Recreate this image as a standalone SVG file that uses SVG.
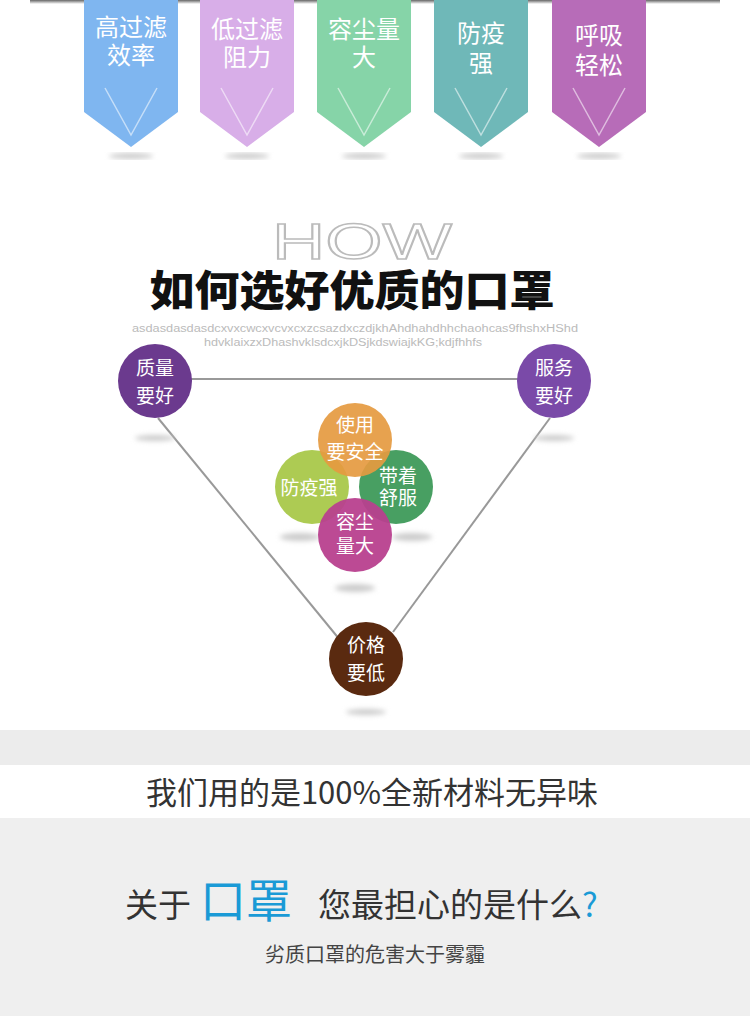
<svg xmlns="http://www.w3.org/2000/svg" width="750" height="1016" viewBox="0 0 750 1016">
<defs>
<style>
.bt{font-family:"Noto Sans CJK SC",sans-serif;font-size:24px;fill:#fff;text-anchor:middle}
.ct{font-family:"Noto Sans CJK SC",sans-serif;font-size:19px;fill:#fff;text-anchor:middle}
.v{fill:none;stroke:#fff;stroke-opacity:0.55;stroke-width:1.5}
.ln{stroke:#999;stroke-width:2;fill:none}
</style>
<linearGradient id="topbar" x1="0" y1="0" x2="0" y2="1"><stop offset="0" stop-color="#666"/><stop offset="1" stop-color="#fff"/></linearGradient>
<filter id="blur"><feGaussianBlur stdDeviation="2.5"/></filter>
</defs>
<rect width="750" height="1016" fill="#fff"/>
<rect x="30" y="0" width="690" height="4" fill="url(#topbar)"/>
<g id="b1"><path d="M84 0H178V112L131 147L84 112Z" fill="#7fb6f0"/><polyline class="v" points="105,88 131,135 157,88"/><text class="bt" x="131" y="36">高过滤</text><text class="bt" x="131" y="64">效率</text></g>
<g id="b2"><path d="M200 0H294V112L247 147L200 112Z" fill="#d8aee8"/><polyline class="v" points="221,88 247,135 273,88"/><text class="bt" x="247" y="38">低过滤</text><text class="bt" x="247" y="66">阻力</text></g>
<g id="b3"><path d="M317 0H411V112L364 147L317 112Z" fill="#86d4a8"/><polyline class="v" points="338,88 364,135 390,88"/><text class="bt" x="364" y="38">容尘量</text><text class="bt" x="364" y="66">大</text></g>
<g id="b4"><path d="M434 0H528V112L481 147L434 112Z" fill="#6fb8b8"/><polyline class="v" points="455,88 481,135 507,88"/><text class="bt" x="481" y="42">防疫</text><text class="bt" x="481" y="72">强</text></g>
<g id="b5"><path d="M552 0H646V112L599 147L552 112Z" fill="#b76cb8"/><polyline class="v" points="573,88 599,135 625,88"/><text class="bt" x="599" y="44">呼吸</text><text class="bt" x="599" y="74">轻松</text></g>
<g id="shadows1" filter="url(#blur)" fill="#ccc">
<ellipse cx="131" cy="156" rx="22" ry="3"/><ellipse cx="247" cy="156" rx="22" ry="3"/><ellipse cx="364" cy="156" rx="22" ry="3"/><ellipse cx="481" cy="156" rx="22" ry="3"/><ellipse cx="599" cy="156" rx="22" ry="3"/>
</g>
<text x="362" y="259" font-family="Liberation Sans,sans-serif" font-size="50" fill="none" stroke="#bbb" stroke-width="1.5" text-anchor="middle" textLength="180" lengthAdjust="spacingAndGlyphs">HOW</text>
<text x="352" y="306" font-family="Noto Sans CJK SC,sans-serif" font-size="42" font-weight="900" fill="#111" text-anchor="middle" textLength="405" lengthAdjust="spacingAndGlyphs">如何选好优质的口罩</text>
<text x="355" y="332" font-family="Liberation Sans,sans-serif" font-size="10" fill="#bbb" text-anchor="middle" textLength="446" lengthAdjust="spacingAndGlyphs">asdasdasdasdcxvxcwcxvcvxcxzcsazdxczdjkhAhdhahdhhchaohcas9fhshxHShd</text>
<text x="343" y="346" font-family="Liberation Sans,sans-serif" font-size="10" fill="#bbb" text-anchor="middle" textLength="278" lengthAdjust="spacingAndGlyphs">hdvklaixzxDhashvklsdcxjkDSjkdswiajkKG;kdjfhhfs</text>
<g id="connectors">
<line class="ln" x1="190" y1="379" x2="518" y2="379"/>
<line class="ln" x1="158" y1="418" x2="340" y2="640"/>
<line class="ln" x1="550" y1="418" x2="393" y2="632"/>
</g>
<g filter="url(#blur)" fill="#ccc">
<ellipse cx="155" cy="438" rx="20" ry="3"/><ellipse cx="554" cy="438" rx="20" ry="3"/><ellipse cx="366" cy="712" rx="20" ry="3"/>
<ellipse cx="300" cy="537" rx="20" ry="4"/><ellipse cx="412" cy="537" rx="20" ry="4"/><ellipse cx="355" cy="588" rx="20" ry="4"/>
</g>
<g id="n1"><circle cx="155" cy="381" r="37" fill="#6b3a8e"/><text class="ct" x="155" y="375">质量</text><text class="ct" x="155" y="403">要好</text></g>
<g id="n2"><circle cx="554" cy="381" r="37" fill="#7a4aa8"/><text class="ct" x="554" y="375">服务</text><text class="ct" x="554" y="403">要好</text></g>
<g id="n3"><circle cx="366" cy="659" r="37" fill="#5a2a10"/><text class="ct" x="366" y="652">价格</text><text class="ct" x="366" y="680">要低</text></g>
<g id="c2"><circle cx="312" cy="487" r="37" fill="#a9c84a" fill-opacity="0.95"/></g>
<g id="c3"><circle cx="396" cy="487" r="37" fill="#3e9a5a" fill-opacity="0.95"/></g>
<g id="c1"><circle cx="355" cy="440" r="37" fill="#e59a40" fill-opacity="0.92"/><text class="ct" x="355" y="432">使用</text><text class="ct" x="355" y="459">要安全</text></g>
<g id="c4"><circle cx="355" cy="535" r="37" fill="#b8408e" fill-opacity="0.95"/><text class="ct" x="355" y="529">容尘</text><text class="ct" x="355" y="553">量大</text></g>
<text class="ct" x="309" y="495">防疫强</text>
<text class="ct" x="398" y="483">带着</text><text class="ct" x="398" y="505">舒服</text>
<rect x="0" y="730" width="750" height="35" fill="#ececec"/>
<text x="372" y="804" font-family="Noto Sans CJK SC,sans-serif" font-size="31" fill="#333" text-anchor="middle">我们用的是100%全新材料无异味</text>
<rect x="0" y="818" width="750" height="198" fill="#efefef"/>
<text x="125" y="917" font-family="Noto Sans CJK SC,sans-serif" font-size="33" fill="#333">关于</text>
<text x="200" y="917" font-family="Noto Sans CJK SC,sans-serif" font-size="46" fill="#1a9ad6">口罩</text>
<text x="318" y="917" font-family="Noto Sans CJK SC,sans-serif" font-size="33" fill="#333">您最担心的是什么<tspan fill="#1a9ad6">?</tspan></text>
<text x="375" y="962" font-family="Noto Sans CJK SC,sans-serif" font-size="20" fill="#444" text-anchor="middle">劣质口罩的危害大于雾霾</text>
</svg>
